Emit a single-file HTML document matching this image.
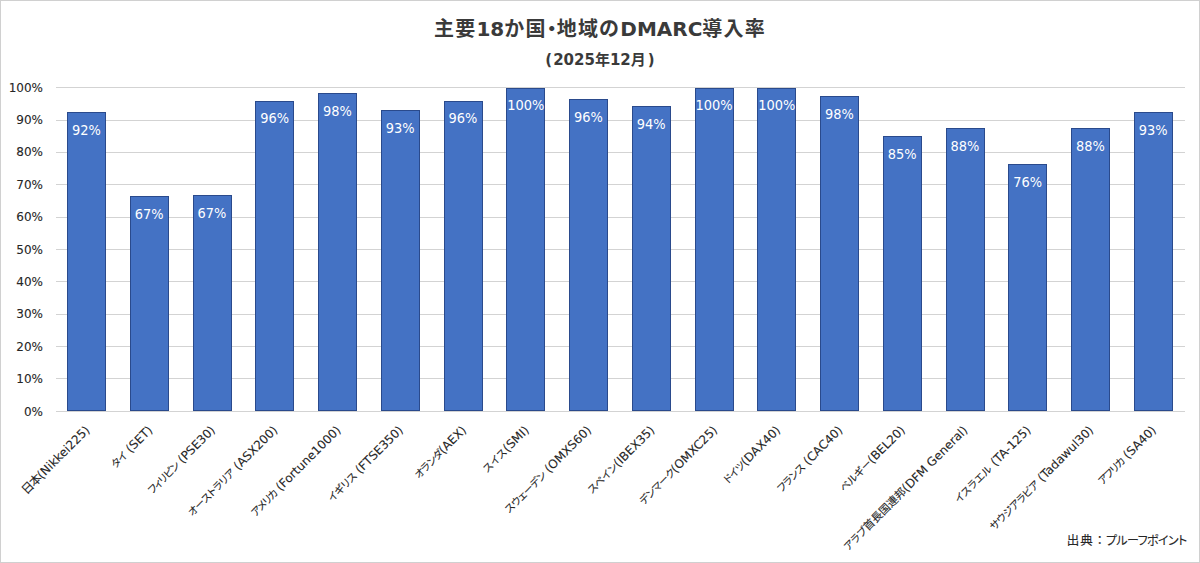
<!DOCTYPE html><html lang="ja"><head><meta charset="utf-8"><title>主要18か国・地域のDMARC導入率</title><style>
*{margin:0;padding:0;box-sizing:border-box}
html,body{width:1200px;height:563px;overflow:hidden;background:#fff}
body{position:relative;font-family:"DejaVu Sans", "Noto Sans CJK JP", sans-serif;color:#262626;-webkit-text-stroke:0.1px currentColor}
.frame{position:absolute;left:0;top:0;width:1200px;height:563px;border:1px solid #d0d0d0}
.title{position:absolute;left:0;width:1200px;text-align:center;font-weight:bold;color:#3a3a3a;white-space:nowrap;-webkit-text-stroke:0}
.t1{top:15.3px;font-size:20px;line-height:28px}
.t1 .c{letter-spacing:1.2px}
.t2{top:48.5px;font-size:15px;line-height:22px}
.t1 .d{font-feature-settings:"palt"}
.t1 .l{}
.g{position:absolute;left:56px;width:1129px;height:1px;background:#d3d3d3}
.yl{position:absolute;right:1157px;font-size:12px;line-height:14px;white-space:nowrap}
.bar{position:absolute;background:#4472c4;border:1px solid #2a4a8c}
.dl{position:absolute;color:#fff;-webkit-text-stroke:0px currentColor;font-size:13px;line-height:14px;text-align:center;white-space:nowrap;transform-origin:50% 0;transform:scaleY(1.12)}
.xl{position:absolute;font-size:12px;line-height:14px;white-space:nowrap;transform-origin:100% 50%;transform:rotate(-45deg)}
.k{font-size:10.3px;font-feature-settings:"palt"}
.kj{font-size:11px}
.src{position:absolute;right:13.4px;top:532.8px;font-size:12.5px;line-height:16px;white-space:nowrap}
.src .k{font-size:12px;letter-spacing:-0.6px}
</style></head><body>
<div class="frame"></div>
<div class="title t1"><span class="c">主要</span><span class="l">18</span><span class="c">か国</span><span class="d">・</span><span class="c">地域の</span><span class="l">DMARC</span><span class="c">導入率</span></div>
<div class="title t2"><span style="margin-right:1px">(</span>2025年12月<span style="margin-left:2px">)</span></div>
<div class="g" style="top:411px"></div>
<div class="yl" style="top:404.5px">0%</div>
<div class="g" style="top:378px"></div>
<div class="yl" style="top:372.1px">10%</div>
<div class="g" style="top:346px"></div>
<div class="yl" style="top:339.7px">20%</div>
<div class="g" style="top:314px"></div>
<div class="yl" style="top:307.3px">30%</div>
<div class="g" style="top:281px"></div>
<div class="yl" style="top:274.9px">40%</div>
<div class="g" style="top:249px"></div>
<div class="yl" style="top:242.5px">50%</div>
<div class="g" style="top:217px"></div>
<div class="yl" style="top:210.1px">60%</div>
<div class="g" style="top:184px"></div>
<div class="yl" style="top:177.7px">70%</div>
<div class="g" style="top:152px"></div>
<div class="yl" style="top:145.3px">80%</div>
<div class="g" style="top:120px"></div>
<div class="yl" style="top:112.9px">90%</div>
<div class="g" style="top:87px"></div>
<div class="yl" style="top:80.5px">100%</div>
<div class="bar" style="left:67.00px;top:112.0px;width:39px;height:299.0px"></div>
<div class="dl" style="left:57.00px;width:59px;top:122.6px">92%</div>
<div class="bar" style="left:129.75px;top:196.0px;width:39px;height:215.0px"></div>
<div class="dl" style="left:119.75px;width:59px;top:206.6px">67%</div>
<div class="bar" style="left:192.50px;top:195.4px;width:39px;height:215.6px"></div>
<div class="dl" style="left:182.50px;width:59px;top:206.0px">67%</div>
<div class="bar" style="left:255.25px;top:100.8px;width:39px;height:310.2px"></div>
<div class="dl" style="left:245.25px;width:59px;top:111.4px">96%</div>
<div class="bar" style="left:318.00px;top:93.0px;width:39px;height:318.0px"></div>
<div class="dl" style="left:308.00px;width:59px;top:103.6px">98%</div>
<div class="bar" style="left:380.75px;top:110.3px;width:39px;height:300.7px"></div>
<div class="dl" style="left:370.75px;width:59px;top:120.9px">93%</div>
<div class="bar" style="left:443.50px;top:100.8px;width:39px;height:310.2px"></div>
<div class="dl" style="left:433.50px;width:59px;top:111.4px">96%</div>
<div class="bar" style="left:506.25px;top:87.8px;width:39px;height:323.2px"></div>
<div class="dl" style="left:496.25px;width:59px;top:98.4px">100%</div>
<div class="bar" style="left:569.00px;top:99.2px;width:39px;height:311.8px"></div>
<div class="dl" style="left:559.00px;width:59px;top:109.8px">96%</div>
<div class="bar" style="left:631.75px;top:106.2px;width:39px;height:304.8px"></div>
<div class="dl" style="left:621.75px;width:59px;top:116.8px">94%</div>
<div class="bar" style="left:694.50px;top:87.8px;width:39px;height:323.2px"></div>
<div class="dl" style="left:684.50px;width:59px;top:98.4px">100%</div>
<div class="bar" style="left:757.25px;top:87.8px;width:39px;height:323.2px"></div>
<div class="dl" style="left:747.25px;width:59px;top:98.4px">100%</div>
<div class="bar" style="left:820.00px;top:96.0px;width:39px;height:315.0px"></div>
<div class="dl" style="left:810.00px;width:59px;top:106.6px">98%</div>
<div class="bar" style="left:882.75px;top:136.2px;width:39px;height:274.8px"></div>
<div class="dl" style="left:872.75px;width:59px;top:146.8px">85%</div>
<div class="bar" style="left:945.50px;top:128.2px;width:39px;height:282.8px"></div>
<div class="dl" style="left:935.50px;width:59px;top:138.8px">88%</div>
<div class="bar" style="left:1008.25px;top:164.2px;width:39px;height:246.8px"></div>
<div class="dl" style="left:998.25px;width:59px;top:174.8px">76%</div>
<div class="bar" style="left:1071.00px;top:128.2px;width:39px;height:282.8px"></div>
<div class="dl" style="left:1061.00px;width:59px;top:138.8px">88%</div>
<div class="bar" style="left:1133.75px;top:112.2px;width:39px;height:298.8px"></div>
<div class="dl" style="left:1123.75px;width:59px;top:122.8px">93%</div>
<div class="xl" style="right:1112.5px;top:420.5px"><span style="letter-spacing:-1.05px">日本</span>(Nikkei225)</div>
<div class="xl" style="right:1049.8px;top:420.5px"><span class="k" style="letter-spacing:-0.15px">タイ</span> (SET)</div>
<div class="xl" style="right:987.0px;top:420.5px"><span class="k" style="letter-spacing:-0.86px">フィリピン</span> (PSE30)</div>
<div class="xl" style="right:924.2px;top:420.5px"><span class="k" style="letter-spacing:-0.28px">オーストラリア</span> (ASX200)</div>
<div class="xl" style="right:861.5px;top:420.5px"><span class="k" style="letter-spacing:-1.03px">アメリカ</span> (Fortune1000)</div>
<div class="xl" style="right:798.8px;top:420.5px"><span class="k" style="letter-spacing:-0.20px">イギリス</span> (FTSE350)</div>
<div class="xl" style="right:736.0px;top:420.5px"><span class="k" style="letter-spacing:-0.52px">オランダ</span>(AEX)</div>
<div class="xl" style="right:673.2px;top:420.5px"><span class="k" style="letter-spacing:0.57px">スイス</span>(SMI)</div>
<div class="xl" style="right:610.5px;top:420.5px"><span class="k" style="letter-spacing:-0.46px">スウェーデン</span> (OMXS60)</div>
<div class="xl" style="right:547.8px;top:420.5px"><span class="k" style="letter-spacing:0.01px">スペイン</span>(IBEX35)</div>
<div class="xl" style="right:485.0px;top:420.5px"><span class="k" style="letter-spacing:-0.44px">デンマーク</span>(OMXC25)</div>
<div class="xl" style="right:422.2px;top:420.5px"><span class="k" style="letter-spacing:-0.51px">ドイツ</span>(DAX40)</div>
<div class="xl" style="right:359.5px;top:420.5px"><span class="k" style="letter-spacing:-0.37px">フランス</span> (CAC40)</div>
<div class="xl" style="right:296.8px;top:420.5px"><span class="k" style="letter-spacing:-0.03px">ベルギー</span>(BEL20)</div>
<div class="xl" style="right:234.0px;top:420.5px"><span class="k" style="letter-spacing:0.13px">アラブ</span><span class="kj">首長国連邦</span>(DFM General)</div>
<div class="xl" style="right:171.2px;top:420.5px"><span class="k" style="letter-spacing:0.30px">イスラエル</span> (TA-125)</div>
<div class="xl" style="right:108.5px;top:420.5px"><span class="k" style="letter-spacing:-0.31px">サウジアラビア</span> (Tadawul30)</div>
<div class="xl" style="right:45.8px;top:420.5px"><span class="k" style="letter-spacing:-0.90px">アフリカ</span> (SA40)</div>
<div class="src"><span style="letter-spacing:0.8px">出典</span>：<span class="k">プルーフポイント</span></div>
</body></html>
